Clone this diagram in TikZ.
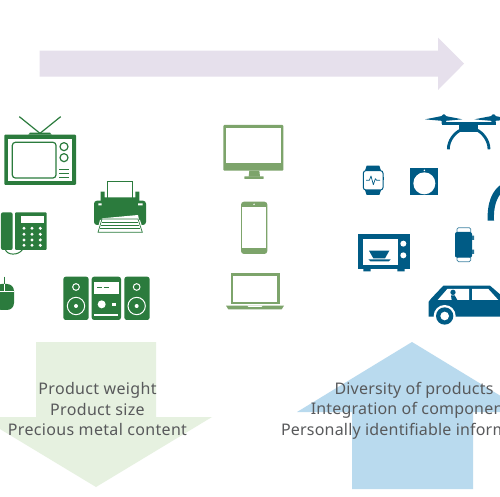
\documentclass[tikz,border=0pt]{standalone}
\usepackage{fontspec}
\setmainfont[LetterSpace=2]{Noto Sans}
\definecolor{dgreen}{HTML}{2B7B3D}
\definecolor{lgreen}{HTML}{7DA46B}
\definecolor{iblue}{HTML}{005B85}
\definecolor{agreen}{HTML}{E6F1E0}
\definecolor{ablue}{HTML}{B9DAEE}
\definecolor{apurple}{HTML}{E6E0EC}
\definecolor{tgrey}{HTML}{58595B}
\tikzset{
  lbl/.style={text=tgrey,font=\fontsize{16}{20.5}\selectfont,align=center,inner sep=0pt},
  zoomed/.style={shift={#1},scale=1/3},
  wh/.style={fill=white,draw=none},
}
\begin{document}
\begin{tikzpicture}[x=1pt,y=-1pt]
\useasboundingbox (0,0) rectangle (500,497);
\fill[white] (0,0) rectangle (500,497);
% big arrows
\fill[apurple] (39.5,50.7) -- (438,50.7) -- (438,37.7) -- (464,63.7) -- (438,90) -- (438,76.7) -- (39.5,76.7) -- cycle;
\fill[agreen] (36,342) -- (156,342) -- (156,417) -- (212,417) -- (96,487) -- (-20,417) -- (36,417) -- cycle;
\fill[ablue] (352,489) -- (352,412) -- (297,412) -- (412,342) -- (527,412) -- (473,412) -- (473,489) -- cycle;
% dark green icons
\begin{scope}[zoomed={(0,100)}]
  % TV
  \fill[dgreen,rounded corners=1pt] (13,104) rectangle (228,255);
  \fill[dgreen] (85,104) -- (90,98) -- (150,98) -- (155,104) -- cycle;
  \draw[dgreen,line width=1.2pt] (58,50) -- (120,100) -- (182,50);
  \fill[wh] (25,116) rectangle (216,244);
  \draw[dgreen,line width=1.2pt,rounded corners=3pt] (37,127) rectangle (168,234);
  \draw[dgreen,line width=1.2pt] (192,140) circle (12) (192,173) circle (12);
  \draw[dgreen,line width=1pt] (178,208) -- (208,208) (178,220) -- (208,220) (178,232) -- (208,232);
  % printer
  \draw[dgreen,line width=1pt,fill=white] (322,245) rectangle (398,295);
  \fill[dgreen] (302,275) rectangle (314,305) (406,275) rectangle (418,305) (314,292) rectangle (406,305);
  \fill[dgreen,rounded corners=3pt] (282,302) rectangle (438,375);
  \fill[wh] (295,310) rectangle (305,316) (414,310) rectangle (428,316);
  \fill[wh] (302,375) -- (306,355) -- (414,345) -- (420,375) -- cycle;
  \fill[wh] (300,360) -- (420,360) -- (432,398) -- (290,398) -- cycle;
  \draw[dgreen,line width=.7pt] (294,397) -- (306,357) -- (414,357) -- (427,397) -- cycle;
  \draw[dgreen,line width=.6pt] (307,366) -- (413,366) (304,376) -- (416,376) (301,386) -- (420,386);
  % telephone
  \fill[dgreen,rounded corners=2pt] (3,337) rectangle (38,450);
  \fill[dgreen,rounded corners=1pt] (45,337) rectangle (140,450);
  \fill[wh] (62,347) rectangle (133,370);
  \foreach \px in {72,96,121} \foreach \py in {385,403,420,436} \fill[white] (\px,\py) circle (5);
  \draw[dgreen,line width=1pt] (16,448) .. controls (20,466) and (55,468) .. (68,448);
  % mouse
  \fill[dgreen,rounded corners=7pt] (-16,552) rectangle (42,630);
  \draw[dgreen,line width=.6pt] (13,530) -- (13,552);
  \draw[white,line width=.5pt] (-8,575) -- (42,575) (13,552) -- (13,575);
  % stereo
  \fill[dgreen,rounded corners=2.5pt] (190,530) rectangle (266,660) (275,530) rectangle (363,660) (373,530) rectangle (449,660);
  \foreach \sx in {228,410} {
    \draw[white,line width=1pt] (\sx,561) circle (10) (\sx,618) circle (26);
    \fill[white] (\sx,618) circle (6);
  }
  \fill[wh] (281,545) rectangle (358,582);
  \draw[dgreen,line width=.7pt] (292,563) -- (306,563) (311,563) -- (326,563);
  \fill[white] (305,613) circle (12);
  \fill[wh] (336,608) rectangle (347,619);
  \fill[wh] (283,642) rectangle (355,648);
\end{scope}
% light green icons
\begin{scope}[zoomed={(210,110)}]
  \fill[lgreen,rounded corners=1pt] (40,45) rectangle (220,182);
  \fill[wh] (48,54) rectangle (212,160);
  \fill[lgreen] (118,182) -- (148,182) -- (150,200) -- (116,200) -- cycle;
  \fill[lgreen,rounded corners=.5pt] (103,199) rectangle (161,207);
  \fill[lgreen,rounded corners=3pt] (93,275) rectangle (172,432);
  \fill[wh] (97,290) rectangle (168,415);
  \fill[white] (132,283) circle (2.5);
  \fill[lgreen] (62,490) rectangle (210,582);
  \fill[wh] (70,498) rectangle (202,575);
  \fill[lgreen] (48,587) -- (222,587) -- (215,598) -- (55,598) -- cycle;
  \fill[wh] (112,587) -- (158,587) -- (154,591) -- (116,591) -- cycle;
\end{scope}
% blue icons
\begin{scope}[zoomed={(340,100)}]
  % drone
  \fill[iblue] (255,58) -- (311,47) -- (367,58) -- (311,63) -- cycle;
  \fill[iblue] (403,58) -- (460,47) -- (516,58) -- (460,63) -- cycle;
  \fill[iblue,rounded corners=1.5pt] (305,43) rectangle (318,75) (454,43) rectangle (467,75);
  \fill[iblue] (305,65) rectangle (467,75);
  \fill[iblue] (358,72) rectangle (415,97);
  \draw[iblue,line width=2.8pt] (325,148) .. controls (325,120) and (345,98) .. (362,90);
  \draw[iblue,line width=2.8pt] (447,148) .. controls (447,120) and (427,98) .. (411,90);
  % smartwatch
  \fill[iblue] (80,197) -- (118,197) -- (124,215) -- (74,215) -- cycle;
  \fill[iblue] (74,268) -- (124,268) -- (118,285) -- (80,285) -- cycle;
  \draw[iblue,line width=1pt,fill=white,rounded corners=2.5pt] (70,212) rectangle (129,270);
  \fill[iblue] (129,230) rectangle (132,240);
  \draw[iblue,line width=.7pt,line join=round] (78,241) -- (88,241) -- (93,228) -- (100,254) -- (106,236) -- (110,241) -- (120,241);
  % dial
  \fill[iblue] (211,205) rectangle (294,286);
  \fill[white] (253,250) circle (33);
  \fill[white] (253,211) circle (2.5);
  % arch
  \fill[iblue] (443,362) .. controls (441,310) and (455,268) .. (490,250) -- (490,273) .. controls (470,290) and (460,320) .. (462,362) -- cycle;
  % microwave
  \fill[iblue] (54,403) rectangle (210,508);
  \fill[iblue] (70,506) rectangle (92,514) (172,506) rectangle (194,514);
  \fill[wh] (68,417) rectangle (174,494);
  \fill[iblue] (87,452) -- (148,452) -- (135,475) -- (100,475) -- cycle;
  \fill[iblue] (85,478) -- (152,478) -- (146,484) -- (91,484) -- cycle;
  \fill[white] (190,431) circle (9) (190,466) circle (9);
  % wrist band
  \draw[iblue!75,line width=.7pt,fill=white,rounded corners=1.5pt] (351,383) rectangle (392,400) (351,470) rectangle (392,485);
  \fill[iblue,rounded corners=2pt] (345,396) rectangle (396,473);
  \fill[iblue!85] (396,407) rectangle (402,420) (396,449) rectangle (402,462);
  % car
  \fill[iblue] (266,605) -- (274,595) -- (310,557) -- (450,557) -- (500,600) -- (500,650) -- (266,650) -- cycle;
  \fill[white] (293,600) -- (322,567) -- (387,567) -- (387,600) -- cycle;
  \fill[white] (396,567) -- (445,567) -- (475,600) -- (396,600) -- cycle;
  \fill[iblue] (339,577) circle (8);
  \fill[iblue] (333,586) -- (344,586) -- (352,600) -- (335,600) -- cycle;
  \fill[white] (314,648) circle (33);
  \fill[iblue] (314,648) circle (26);
  \fill[white] (314,648) circle (13);
\end{scope}
% labels
\node[lbl] (lefttext) at (97.5,409) {Product weight\\Product size\\Precious metal content};
\node[lbl,font=\fontsize{16}{20.5}\selectfont\addfontfeature{LetterSpace=1.2}] (righttext) at (414,410.5) {Diversity of products\\Integration of components\\Personally identifiable information};
\end{tikzpicture}
\end{document}
